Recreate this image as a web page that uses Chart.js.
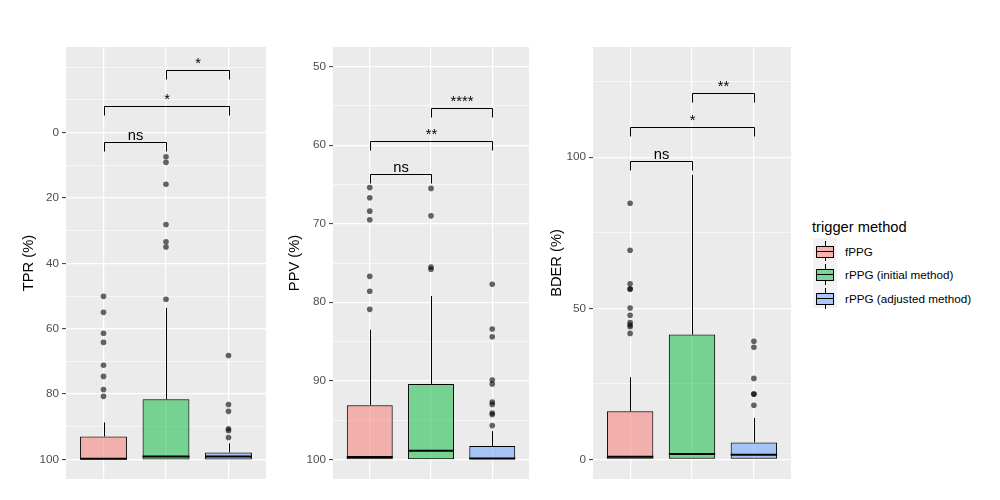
<!DOCTYPE html>
<html>
<head>
<meta charset="utf-8">
<script src="https://cdn.jsdelivr.net/npm/chart.js@4.4.1/dist/chart.umd.min.js"></script>
<style>
  body { margin: 0; background: #fff; font-family: "Liberation Sans", Arial, sans-serif; }
  #wrap { position: relative; width: 1000px; height: 500px; overflow: hidden; }
  canvas { position: absolute; top: 0; }
  #legend { position: absolute; left: 812px; top: 219px; }
  .lg-title { font-size: 14.7px; line-height: 17px; color: #000; margin-bottom: 2px; }
  .lg-row { position: relative; height: 23.33px; }
  .lg-key { position: absolute; left: 1px; top: 0; width: 24px; height: 23.33px; background: #F2F2F2; }
  .lg-wh { position: absolute; left: 12px; width: 1px; background: #000; }
  .lg-box { position: absolute; left: 3px; top: 8px; width: 16px; height: 10px; border: 1px solid #000; }
  .lg-med { position: absolute; left: 0; right: 0; top: 4px; height: 1px; background: #000; }
  .lg-text { position: absolute; left: 33px; top: 7px; font-size: 11.7px; line-height: 14px; color: #000; white-space: nowrap; }
</style>
</head>
<body>
<div id="wrap">
  <canvas id="tpr" width="270" height="500" style="left:0px"></canvas>
  <canvas id="ppv" width="265" height="500" style="left:270px"></canvas>
  <canvas id="bder" width="265" height="500" style="left:535px"></canvas>
  <div id="legend"><div class="lg-title">trigger method</div></div>
</div>
<script>
Chart.defaults.font.family = '"Liberation Sans", Arial, sans-serif';
Chart.defaults.animation = false;

// --- Groups ---
const groups = ["fPPG", "rPPG (initial method)", "rPPG (adjusted method)"];
const xPos = [1, 2, 3];

// --- TPR (%) ---
const tprWhiskerLo = [88.7, 53.6, 95.1];
const tprQ1 = [93.0, 81.6, 97.9];
const tprMedian = [99.8, 99.1, 99.1];
const tprQ3 = [100, 100, 100];
const tprWhiskerHi = [100, 100, 100];
const tprOutliers = [
    [50.1, 55.0, 61.4, 64.2, 71.2, 74.6, 78.6, 80.7],
    [7.4, 9.1, 15.8, 28.1, 33.4, 35.0, 51.0],
    [68.2, 83.2, 85.3, 90.6, 91.2, 93.3]
];
const tprPairs = [[1, 2], [1, 3], [2, 3]];
const tprBracketY = [3.0, -8.1, -19.1];
const tprSignif = ["ns", "*", "*"];
const tprMajor = [0, 20, 40, 60, 80, 100];
const tprMinor = [-20, -10, 10, 30, 50, 70, 90];

// --- PPV (%) ---
const ppvWhiskerLo = [83.5, 79.2, 96.4];
const ppvQ1 = [93.1, 90.4, 98.3];
const ppvMedian = [99.7, 98.9, 99.9];
const ppvQ3 = [100, 100, 100];
const ppvWhiskerHi = [100, 100, 100];
const ppvOutliers = [
    [65.4, 66.7, 68.4, 69.5, 76.7, 78.6, 80.9],
    [65.5, 69.0, 75.5, 75.8],
    [77.7, 83.4, 84.4, 89.9, 90.4, 92.7, 93.0, 94.1, 94.3, 95.7]
];
const ppvPairs = [[1, 2], [1, 3], [2, 3]];
const ppvBracketY = [63.7, 59.5, 55.3];
const ppvSignif = ["ns", "**", "****"];
const ppvMajor = [50, 60, 70, 80, 90, 100];
const ppvMinor = [55, 65, 75, 85, 95];

// --- BDER (%) ---
const bderWhiskerLo = [0, 0, 0];
const bderQ1 = [0, 0, 0];
const bderMedian = [0.9, 1.8, 1.5];
const bderQ3 = [15.9, 41.3, 5.6];
const bderWhiskerHi = [27.2, 94.2, 13.7];
const bderOutliers = [
    [84.8, 69.2, 58.1, 56.4, 56.4, 50.1, 47.7, 45.3, 44.5, 43.9, 41.7],
    [],
    [39.1, 37.1, 26.8, 21.6, 21.6, 17.9]
];
const bderPairs = [[1, 2], [1, 3], [2, 3]];
const bderBracketY = [98.7, 109.9, 121.2];
const bderSignif = ["ns", "*", "**"];
const bderMajor = [0, 50, 100];
const bderMinor = [25, 75, 125];

// --- Styles ---
const fillColors = ["rgba(248,118,109,0.5)", "rgba(0,186,56,0.5)", "rgba(97,156,255,0.5)"];
const panelBg = "#EBEBEB";

// --- Box extras: panel background, whiskers, medians, significance brackets ---
function boxPlugin(p) {
    return {
        id: "boxExtras",
        beforeDraw(chart) {
            const a = chart.chartArea, c = chart.ctx;
            c.save();
            c.fillStyle = panelBg;
            c.fillRect(a.left, a.top, a.right - a.left, a.bottom - a.top);
            c.restore();
        },
        beforeDatasetsDraw(chart) {
            const c = chart.ctx, xs = chart.scales.x, ys = chart.scales.y;
            c.save();
            c.strokeStyle = "#000";
            c.lineWidth = 1;
            xPos.forEach((xv, i) => {
                const x = Math.round(xs.getPixelForValue(xv)) + 0.5;
                c.beginPath();
                c.moveTo(x, ys.getPixelForValue(p.whLo[i]));
                c.lineTo(x, ys.getPixelForValue(p.q1[i]));
                c.moveTo(x, ys.getPixelForValue(p.q3[i]));
                c.lineTo(x, ys.getPixelForValue(p.whHi[i]));
                c.stroke();
            });
            c.restore();
        },
        afterDatasetsDraw(chart) {
            const c = chart.ctx, xs = chart.scales.x, ys = chart.scales.y;
            const bars = chart.getDatasetMeta(0).data;
            c.save();
            c.strokeStyle = "#000";
            // medians
            c.lineWidth = 2;
            xPos.forEach((xv, i) => {
                const x = xs.getPixelForValue(xv), w = bars[i].width;
                const y = ys.getPixelForValue(p.med[i]);
                c.beginPath();
                c.moveTo(x - w / 2, y);
                c.lineTo(x + w / 2, y);
                c.stroke();
            });
            // significance brackets
            c.lineWidth = 1;
            c.fillStyle = "#000";
            c.font = '14.7px "Liberation Sans", Arial, sans-serif';
            c.textAlign = "center";
            c.textBaseline = "alphabetic";
            p.pairs.forEach((pr, i) => {
                const x1 = Math.round(xs.getPixelForValue(pr[0])) + 0.5;
                const x2 = Math.round(xs.getPixelForValue(pr[1])) + 0.5;
                const y = Math.round(ys.getPixelForValue(p.bracketY[i])) + 0.5;
                c.beginPath();
                c.moveTo(x1, y + 9);
                c.lineTo(x1, y);
                c.lineTo(x2, y);
                c.lineTo(x2, y + 9);
                c.stroke();
                c.fillText(p.signif[i], (x1 + x2) / 2, y - 3);
            });
            c.restore();
        }
    };
}

function makePanel(id, p) {
    const boxes = xPos.map((x, i) => ({ x: x, y: [p.q1[i], p.q3[i]] }));
    const outliers = p.outliers.flatMap((arr, i) => arr.map(v => ({ x: xPos[i], y: v })));
    const isMajor = v => p.major.includes(v);
    return new Chart(document.getElementById(id), {
        type: "bar",
        data: {
            datasets: [
                {
                    type: "bar",
                    data: boxes,
                    backgroundColor: fillColors,
                    borderColor: "#000",
                    borderWidth: 1,
                    borderSkipped: false,
                    barPercentage: 0.75,
                    categoryPercentage: 1
                },
                {
                    type: "scatter",
                    data: outliers,
                    pointRadius: 2.8,
                    pointBackgroundColor: "rgba(0,0,0,0.6)",
                    pointBorderWidth: 0
                }
            ]
        },
        options: {
            responsive: false,
            animation: false,
            layout: { padding: { top: 47, bottom: 21, left: 0, right: p.padRight } },
            plugins: { legend: { display: false }, tooltip: { enabled: false } },
            scales: {
                x: {
                    type: "linear",
                    min: 0.4,
                    max: 3.6,
                    offset: false,
                    afterBuildTicks: s => { s.ticks = xPos.map(v => ({ value: v })); },
                    afterFit: s => { s.height = 0; },
                    ticks: { display: false },
                    grid: { color: "#fff", lineWidth: 1.2, drawTicks: false, offset: false },
                    border: { display: false }
                },
                y: {
                    type: "linear",
                    reverse: p.reverse,
                    min: p.min,
                    max: p.max,
                    afterBuildTicks: s => {
                        s.ticks = p.major.concat(p.minor).sort((a, b) => a - b).map(v => ({ value: v }));
                    },
                    afterFit: s => { s.width = p.axisWidth; },
                    ticks: {
                        autoSkip: false,
                        color: "#4D4D4D",
                        font: { size: 11.7 },
                        padding: 3,
                        callback: v => isMajor(v) ? String(v) : ""
                    },
                    grid: {
                        color: "#fff",
                        lineWidth: c => (c.tick && isMajor(c.tick.value)) ? 1.2 : 0.6,
                        tickColor: c => (c.tick && isMajor(c.tick.value)) ? "#333333" : "rgba(0,0,0,0)",
                        tickLength: 4,
                        tickWidth: 1
                    },
                    border: { display: false },
                    title: {
                        display: true,
                        text: p.title,
                        color: "#000",
                        font: { size: 14.7 },
                        padding: { top: p.titleOffset, bottom: 0 }
                    }
                }
            }
        },
        plugins: [boxPlugin(p)]
    });
}

// --- Panels ---
makePanel("tpr", {
    title: "TPR (%)", reverse: true, min: -26.2, max: 106,
    whLo: tprWhiskerLo, q1: tprQ1, med: tprMedian, q3: tprQ3, whHi: tprWhiskerHi,
    outliers: tprOutliers, pairs: tprPairs, bracketY: tprBracketY, signif: tprSignif,
    major: tprMajor, minor: tprMinor,
    axisWidth: 66, titleOffset: 20, padRight: 4
});
makePanel("ppv", {
    title: "PPV (%)", reverse: true, min: 47.5, max: 102.5,
    whLo: ppvWhiskerLo, q1: ppvQ1, med: ppvMedian, q3: ppvQ3, whHi: ppvWhiskerHi,
    outliers: ppvOutliers, pairs: ppvPairs, bracketY: ppvBracketY, signif: ppvSignif,
    major: ppvMajor, minor: ppvMinor,
    axisWidth: 63, titleOffset: 16, padRight: 6
});
makePanel("bder", {
    title: "BDER (%)", reverse: false, min: -6.5, max: 136.5,
    whLo: bderWhiskerLo, q1: bderQ1, med: bderMedian, q3: bderQ3, whHi: bderWhiskerHi,
    outliers: bderOutliers, pairs: bderPairs, bracketY: bderBracketY, signif: bderSignif,
    major: bderMajor, minor: bderMinor,
    axisWidth: 58, titleOffset: 13, padRight: 9
});

// --- Legend ---
const legend = document.getElementById("legend");
groups.forEach((name, i) => {
    const row = document.createElement("div");
    row.className = "lg-row";
    row.innerHTML = `
        <span class="lg-key">
            <span class="lg-wh" style="top:3px;height:5px"></span>
            <span class="lg-box" style="background:${fillColors[i]}"><span class="lg-med"></span></span>
            <span class="lg-wh" style="top:19px;height:5px"></span>
        </span>
        <span class="lg-text">${name}</span>
    `;
    legend.appendChild(row);
});
</script>
</body>
</html>
